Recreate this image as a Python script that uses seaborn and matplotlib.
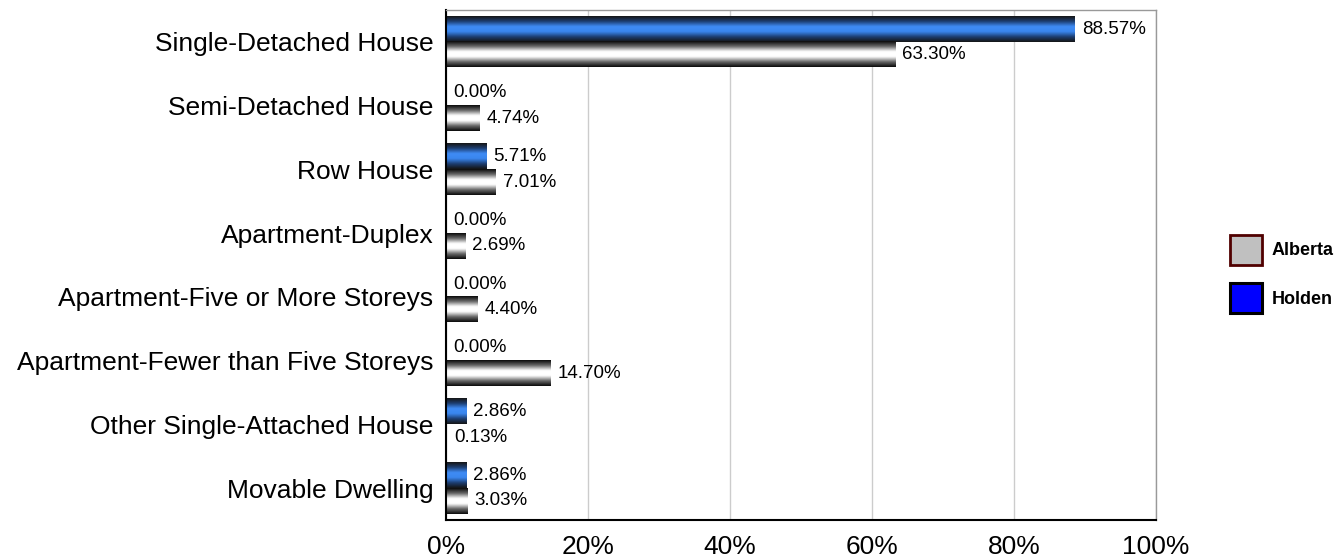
import matplotlib
matplotlib.use("Agg")
import matplotlib.pyplot as plt
import seaborn as sns
import numpy as np
import pandas as pd
from matplotlib.colors import LinearSegmentedColormap
from matplotlib.patches import Patch

categories = [
    "Single-Detached House",
    "Semi-Detached House",
    "Row House",
    "Apartment-Duplex",
    "Apartment-Five or More Storeys",
    "Apartment-Fewer than Five Storeys",
    "Other Single-Attached House",
    "Movable Dwelling",
]
holden = [88.57, 0.00, 5.71, 0.00, 0.00, 0.00, 2.86, 2.86]
alberta = [63.30, 4.74, 7.01, 2.69, 4.40, 14.70, 0.13, 3.03]
series = ["Holden", "Alberta"]
x_ticks = [0, 20, 40, 60, 80, 100]

df = pd.DataFrame({
    "category": categories * 2,
    "value": holden + alberta,
    "region": ["Holden"] * len(categories) + ["Alberta"] * len(categories),
})

sns.set_style("white")
plt.rcParams["font.family"] = ["Liberation Sans", "DejaVu Sans"]

fig = plt.figure(figsize=(13.37, 5.6), dpi=100)
ax = fig.add_axes([446 / 1337, 40 / 560, 710 / 1337, 510 / 560])

sns.barplot(data=df, y="category", x="value", hue="region", hue_order=series,
            order=categories, orient="h", width=0.8, ax=ax, legend=False,
            errorbar=None, linewidth=0)

# cylinder-like shading for each bar
cmaps = {
    "Holden": LinearSegmentedColormap.from_list(
        "hol", ["#151515", "#1d3f73", "#3f8cf5", "#3a86ee", "#1d3f73", "#151515"]),
    "Alberta": LinearSegmentedColormap.from_list(
        "alb", ["#0a0a0a", "#6a6a6a", "#ffffff", "#ffffff", "#6a6a6a", "#0a0a0a"]),
}
grad = np.linspace(0, 1, 64).reshape(-1, 1)
ax.set_xlim(0, 100)
ylim = ax.get_ylim()
for cont, name in zip(ax.containers, series):
    vals = holden if name == "Holden" else alberta
    for bar, v in zip(cont, vals):
        x0, y0 = bar.get_x(), bar.get_y()
        w, h = bar.get_width(), bar.get_height()
        bar.set_visible(False)
        if w > 0:
            ax.imshow(grad, cmap=cmaps[name], aspect="auto",
                      extent=(x0, x0 + w, y0 + h, y0), zorder=2, interpolation="bicubic")
        ax.annotate(f"{v:.2f}%", (w, y0 + h / 2),
                    xytext=(5, 0), textcoords="offset points", va="center", ha="left",
                    fontsize=13.5, color="black", zorder=3)
ax.set_ylim(ylim)
ax.set_xlim(0, 100)

ax.set_xticks(x_ticks)
ax.set_xticklabels([f"{t}%" for t in x_ticks], fontsize=19, color="black")
for lab in ax.get_yticklabels():
    lab.set_color("black")
ax.tick_params(axis="y", labelsize=19, length=0, pad=9)
ax.tick_params(axis="x", length=0, pad=11)
ax.set_xlabel("")
ax.set_ylabel("")
ax.grid(axis="x", color="#cccccc", linewidth=1, zorder=0)
ax.set_axisbelow(True)
for s in ["top", "right"]:
    ax.spines[s].set_color("#999999")
    ax.spines[s].set_linewidth(1)
for s in ["left", "bottom"]:
    ax.spines[s].set_color("black")
    ax.spines[s].set_linewidth(1.5)

handles = [Patch(facecolor="#c0c0c0", edgecolor="#500000", linewidth=2, label="Alberta"),
           Patch(facecolor="#0000ff", edgecolor="black", linewidth=2.2, label="Holden")]
leg = fig.legend(handles=handles, loc="center left", bbox_to_anchor=(1230 / 1337, 1 - 274 / 560),
                 frameon=False, borderpad=0, borderaxespad=0, handlelength=1.75, handleheight=2.2,
                 labelspacing=1.0, handletextpad=0.55, labelcolor="black",
                 prop={"weight": "bold", "size": 13})

fig.savefig("out.png", dpi=100)
